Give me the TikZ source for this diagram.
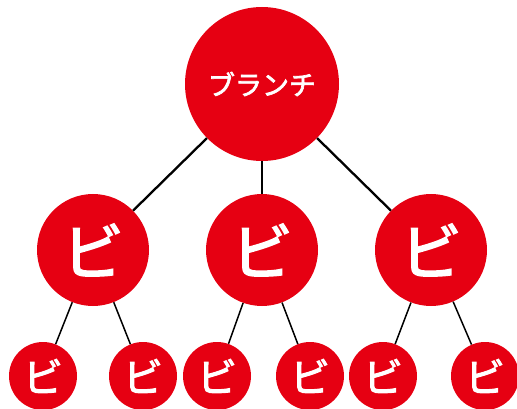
\documentclass[tikz,border=0pt]{standalone}
\usepackage{fontspec}
\newfontfamily\jpfont[FakeBold=2.5]{Noto Sans CJK JP}
\usetikzlibrary{positioning}
\definecolor{branchred}{RGB}{230,0,18}
\tikzset{
  leaf/.style={circle, fill=branchred, text=white, inner sep=0pt, font=\jpfont},
  twig/.style={black, line width=1.5pt},
  bough/.style={black, line width=2.3pt},
}

\begin{document}
\begin{tikzpicture}[x=1pt,y=-1pt]
        \useasboundingbox (0,0) rectangle (517,409);
        \node[leaf, minimum size=154pt, font=\jpfont\fontsize{27}{27}\selectfont] (root) at (262,84) {ブランチ};
        \node[leaf, minimum size=112pt, font=\jpfont\fontsize{62}{62}\selectfont] (mid1) at (93,250) {ビ};
        \node[leaf, minimum size=112pt, font=\jpfont\fontsize{62}{62}\selectfont] (mid2) at (262,250) {ビ};
        \node[leaf, minimum size=112pt, font=\jpfont\fontsize{62}{62}\selectfont] (mid3) at (431,250) {ビ};
        \foreach \x/\n in {43/1,143/2,217/3,310/4,383/5,485/6}
          \node[leaf, minimum size=68pt, font=\jpfont\fontsize{40}{40}\selectfont] (low\n) at (\x,376) {ビ};
        \foreach \m in {1,2,3}
          \draw[bough] (root) -- (mid\m);
        \draw[twig] (mid1) -- (low1);
        \draw[twig] (mid1) -- (low2);
        \draw[twig] (mid2) -- (low3);
        \draw[twig] (mid2) -- (low4);
        \draw[twig] (mid3) -- (low5);
        \draw[twig] (mid3) -- (low6);
\end{tikzpicture}
\end{document}
